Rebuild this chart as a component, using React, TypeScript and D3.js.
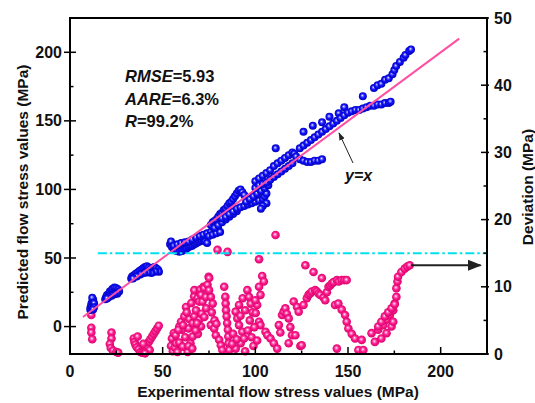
import React from "react";
import * as d3 from "d3";

const predictedPoints: [number, number][] = [
  [11, 12], [11, 13.5], [11.5, 15], [11.5, 16.5], [12, 18], [12.5, 19.5], [12, 21], [13, 17], [13, 14], [12.5, 12.5],
  [19, 20], [19.5, 21.5], [20, 23], [21, 24], [21.5, 25.5], [22.5, 26.5], [23, 27.5], [24, 28.5], [25, 28], [26, 27], [26.5, 25.5], [25.5, 24], [24, 23.5], [22.5, 22.5], [21, 21.5], [20, 20.5],
  [33, 35], [33.5, 36.5], [34.5, 37.5], [35.5, 38.5], [36.5, 39.5], [37.5, 40.5], [38.5, 41.5], [39.5, 42.5], [40.5, 43.5], [41.5, 44], [42.5, 43], [43.5, 42], [44.5, 42.5], [45.5, 43.5], [46.5, 42.5], [47.5, 41.5], [48, 40], [46, 40], [44, 39], [42, 39.5], [40, 39], [38, 38], [36, 36.5], [34, 35],
  [54, 60], [54.5, 62], [55, 58], [56, 56.5], [57, 55.5], [58, 55], [59, 54.5], [60, 55], [61, 55.5], [62, 56], [63, 57], [64, 58], [65, 58.5], [66, 59], [67, 60], [68, 60.5], [69, 61.5], [70, 62], [71, 63], [72, 64], [73, 62], [74, 61],
  [56, 59], [58, 60], [60, 61], [62, 61.5], [64, 62], [66, 63.5], [68, 65], [70, 66], [72, 67], [74, 68], [76, 69], [78, 70], [80, 71], [75, 66], [77, 67], [79, 68], [81, 69],
  [76, 74], [77, 76], [78, 77], [79, 78], [80, 80], [81, 82], [82, 83], [83, 85], [84, 86], [85, 88], [86, 90], [87, 91], [88, 93], [89, 95], [90, 97], [91, 99], [92, 100], [93, 98], [94, 96],
  [78, 72], [80, 74], [82, 76], [84, 78], [86, 80], [88, 82], [90, 84],
  [82, 79], [84, 80], [86, 82], [88, 84], [90, 86], [92, 87], [94, 88], [96, 89], [98, 90], [100, 91], [102, 92], [104, 93], [105, 95], [106, 97], [106, 90], [104, 88], [103, 86], [98, 94], [100, 96], [96, 92],
  [95, 91], [97, 93], [99, 95], [101, 97], [103, 99], [105, 101], [107, 103],
  [100, 106], [102, 108], [104, 110], [106, 112], [108, 114], [110, 117], [112, 119], [114, 121], [116, 123], [118, 125], [120, 127], [121, 126],
  [122, 124], [124, 122], [126, 121], [128, 120], [130, 120], [132, 121], [134, 121], [136, 122],
  [100, 101], [102, 103], [104, 104], [106, 105], [108, 107], [110, 109], [112, 111], [114, 113], [116, 115], [118, 117], [120, 119],
  [111, 130],
  [126, 142], [131, 146.5], [136, 149], [140, 153], [145, 155.5], [148, 160],
  [124, 130], [126, 132], [128, 134], [130, 136], [132, 138], [134, 140], [136, 142], [138, 144], [140, 146], [142, 148], [144, 150], [146, 152], [148, 154], [150, 156], [152, 157], [154, 158], [156, 158], [158, 159],
  [158, 168],
  [164, 174], [166, 176], [168, 177], [170, 180], [172, 181], [174, 184], [175, 187], [176, 190], [178, 193], [180, 196], [181, 198], [183, 201], [184, 202],
  [160, 160], [162, 161], [164, 161], [166, 162], [168, 162], [170, 163], [172, 163], [173, 164],
];

const deviationPoints: [number, number][] = [
  [11.5, 5.8], [11.5, 3.9], [11.5, 3.2], [12, 2.2],
  [22.4, 3.2], [22.4, 2.3], [21.5, 1.5], [22, 0.9], [23.2, 0.5], [25, 0.3], [26, 0.2],
  [34.4, 2.3], [34.8, 1.8], [35.3, 1.4], [36, 1], [37, 0.7], [38, 0.3], [38.9, 0.2], [40, 0.4], [41, 0.8], [41.6, 1.1], [42.5, 1.8], [43.4, 2.2], [44.3, 2.6], [45.2, 3], [46.1, 3.4], [47, 3.8], [47.9, 4.2], [36.5, 2.6], [39.5, 1.5], [43, 0.6], [40.5, 0.1],
  [54.5, 1.2], [55, 2.3], [55.5, 0.4], [56, 3.1], [56.5, 1], [57.2, 1.6], [58, 0.3], [59, 4.1], [59, 1.7], [59.9, 4.8], [60.4, 3.6], [60.8, 1.1], [61.7, 5.6], [62.2, 2.5], [62.6, 7], [63.5, 0.3], [64, 3.8], [64.4, 5.2], [65, 1.6], [65.5, 7.6], [66.2, 4.6], [66.2, 2.6], [67, 8.6], [67.1, 5.6], [67.1, 9.5], [68, 6.5], [68.8, 8.3], [69, 3], [69.7, 7.8], [69.7, 5.1], [70.3, 9.6], [70.7, 4.1], [70.7, 8.8], [71.5, 7.8], [72, 10], [72.4, 9.8], [73.3, 8.5], [74.2, 10.3], [74.8, 11.5], [75.1, 11.3], [76, 8.5], [76, 4.3], [77, 7.5], [77.8, 3.8], [78.7, 2.8], [79.6, 15.5], [80.5, 2.1], [81.4, 1.3], [82.2, 0.6],
  [57, 2.8], [58.5, 3.6], [61, 4.3], [63, 6.2], [64, 1.2], [66, 0.8], [67.8, 3.5], [68.5, 4.6], [71, 6], [72.5, 5.5], [73.5, 6.8], [75, 9.5], [76.5, 6.2], [78, 5], [79, 4.5],
  [83.2, 10], [83.8, 8.5], [84, 7.5], [84.2, 6.5], [84.5, 5.6], [84.8, 4.6], [85, 15.2], [85.2, 3.6], [85.4, 2.6], [85.6, 1.6], [86, 0.6],
  [89.4, 6.3], [89.4, 0.8], [90.3, 5.3], [91.2, 7.3], [91.2, 4.3], [92.1, 1.6], [93, 3.3], [93.2, 8.3], [93.9, 2.3], [94.5, 0.4], [95.7, 9.5], [96.6, 8.5], [97.5, 7.5], [98.5, 6.2], [99, 1.2], [100.2, 6.1], [101, 7.3], [102, 4.8], [102, 10], [102, 14.1], [102.8, 8.8], [102.8, 4.3], [103.7, 11.6], [104.6, 10.8], [105.5, 3.3], [106.5, 2.8],
  [87.5, 1.5], [88, 3], [90, 2.2], [92, 5.7], [94.5, 6.5], [96, 3.5], [97, 5], [98, 2.5], [99.5, 4], [100, 8], [101, 2],
  [108.2, 2.3], [110, 1.6], [110.9, 17.7], [111.8, 0.8], [112.7, 4.3], [113.5, 3.2], [114.4, 5.8], [115.3, 6.3], [116.2, 6.8], [117, 6], [118, 5.3], [118, 1.6], [118.9, 4], [119.8, 2.8], [120.7, 7.8], [121.6, 2.8], [122.5, 7], [123.4, 6.3], [124.3, 1.2], [125, 1.3], [126, 7.3], [127, 13.2], [127.8, 8.3], [128.7, 8.8], [129.6, 9], [130.5, 9.3], [131.4, 12.2], [132.3, 9.5], [133.2, 9.3], [134.1, 9], [135, 8.8], [135.9, 11.3], [136.8, 8.4], [137.7, 8], [138.6, 9.2], [139.5, 10], [140.4, 10.2], [141.3, 10.5], [142.2, 10.7], [143, 7.3], [144, 11], [144, 0.8], [145, 10.8], [146.6, 11], [148, 11], [149.3, 11],
  [144.8, 7.5], [146.6, 6.6], [148.4, 5.8], [149.3, 4.8], [150.2, 3.8], [152, 3], [153.8, 2.3], [155.6, 0.6], [157.4, 2.1], [158.3, 0.6],
  [162.7, 3.1], [164.5, 1.8], [166.3, 3.6], [168, 2.3], [169, 4.3], [170.8, 3.1], [170.8, 5.1], [172.6, 5.8], [173.5, 4.1], [174.4, 4.8], [174.4, 6.5], [175.2, 7.5], [176.1, 8.5], [176.1, 9.8], [176.7, 10.8], [177, 11.5], [178.8, 12.2], [180.6, 12.7], [182, 13], [183.3, 13.2],
  [166.3, 4.1], [168, 4.8], [169.9, 5.6], [171.7, 6.2], [173.5, 6.8], [175.2, 7.4],
];

const xTicks = [0, 50, 100, 150, 200];
const xMinorTicks = [25, 75, 125, 175];
const yLeftTicks = [0, 50, 100, 150, 200];
const yLeftMinorTicks = [25, 75, 125, 175];
const yRightTicks = [0, 10, 20, 30, 40, 50];
const yRightMinorTicks = [5, 15, 25, 35, 45];
const lineRange = [7, 210];
const thresholdDeviation = 15;
const arrowDeviation = 13.2;
const arrowXRange = [184, 221.5];
const statsLines = [
  { label: "RMSE", value: "=5.93" },
  { label: "AARE", value: "=6.3%" },
  { label: "R", value: "=99.2%" },
];

const W = 535, H = 403;
const L = 70, R = 487, T = 18, B = 354;
const FONT = "'Liberation Sans', Arial, sans-serif";

export default function App() {
  const x = d3.scaleLinear().domain([0, 225]).range([L, R]);
  const yL = d3.scaleLinear().domain([-20, 225]).range([B, T]);
  const yR = d3.scaleLinear().domain([0, 50]).range([B, T]);

  return (
    <svg width={W} height={H} style={{ position: "absolute", left: 0, top: 0, background: "#fff" }}>
      <defs>
        <radialGradient id="gBlue" cx="0.5" cy="0.5" r="0.55" fx="0.42" fy="0.4">
          <stop offset="0" stopColor="#ffffff" />
          <stop offset="0.2" stopColor="#8080ff" />
          <stop offset="0.5" stopColor="#1010ff" />
          <stop offset="1" stopColor="#0000b0" />
        </radialGradient>
        <radialGradient id="gPink" cx="0.5" cy="0.5" r="0.55" fx="0.42" fy="0.4">
          <stop offset="0" stopColor="#ffffff" />
          <stop offset="0.2" stopColor="#ff8cc6" />
          <stop offset="0.5" stopColor="#ff1a8c" />
          <stop offset="1" stopColor="#d00068" />
        </radialGradient>
        <marker id="arrowHead" viewBox="0 0 10 10" refX="9" refY="5" markerWidth="7" markerHeight="7" orient="auto">
          <path d="M0,1 L10,5 L0,9 z" fill="#222" />
        </marker>
        <marker id="arrowThin" viewBox="0 0 10 10" refX="9" refY="5" markerWidth="8" markerHeight="8" orient="auto">
          <path d="M0,1.5 L10,5 L0,8.5 z" fill="#222" />
        </marker>
      </defs>

      {deviationPoints.map((d, i) => (
        <circle key={"p" + i} cx={x(d[0])} cy={yR(d[1])} r={4.3} fill="url(#gPink)" />
      ))}
      {predictedPoints.map((d, i) => (
        <circle key={"b" + i} cx={x(d[0])} cy={yL(d[1])} r={4} fill="url(#gBlue)" />
      ))}

      <line x1={x(lineRange[0])} y1={yL(lineRange[0])} x2={x(lineRange[1])} y2={yL(lineRange[1])}
        stroke="#ff4fa3" strokeWidth={2} />

      <line x1={x(15)} x2={R} y1={yR(thresholdDeviation)} y2={yR(thresholdDeviation)}
        stroke="#00e1f0" strokeWidth={2} strokeDasharray="9,3,2.5,3" />

      <line x1={x(arrowXRange[0])} x2={x(arrowXRange[1])} y1={yR(arrowDeviation)} y2={yR(arrowDeviation)}
        stroke="#222" strokeWidth={2} markerEnd="url(#arrowHead)" />

      <line x1={353} y1={163} x2={339} y2={133} stroke="#222" strokeWidth={1} markerEnd="url(#arrowThin)" />
      <text x={345} y={181} fontFamily={FONT} fontSize={16} fontStyle="italic" fontWeight="bold" fill="#111">y=x</text>

      {statsLines.map((s, i) => (
        <text key={s.label} x={125} y={82 + i * 22.7} fontFamily={FONT} fontSize={16.5} fontWeight="bold" fill="#111">
          <tspan fontStyle="italic">{s.label}</tspan>
          <tspan>{s.value}</tspan>
        </text>
      ))}

      <rect x={L} y={T} width={R - L} height={B - T} fill="none" stroke="#000" strokeWidth={2} />

      {xTicks.map((t) => (
        <g key={"xt" + t}>
          <line x1={x(t)} x2={x(t)} y1={B} y2={B - 7} stroke="#000" strokeWidth={1.5} />
          <text x={x(t)} y={377} textAnchor="middle" fontFamily={FONT} fontSize={16} fontWeight="bold" fill="#111">{t}</text>
        </g>
      ))}
      {xMinorTicks.map((t) => (
        <line key={"xm" + t} x1={x(t)} x2={x(t)} y1={B} y2={B - 3.5} stroke="#000" strokeWidth={1.5} />
      ))}

      {yLeftTicks.map((t) => (
        <g key={"yl" + t}>
          <line x1={L - 6} x2={L + 6} y1={yL(t)} y2={yL(t)} stroke="#000" strokeWidth={1.5} />
          <text x={62} y={yL(t) + 5.5} textAnchor="end" fontFamily={FONT} fontSize={16} fontWeight="bold" fill="#111">{t}</text>
        </g>
      ))}
      {yLeftMinorTicks.map((t) => (
        <line key={"ylm" + t} x1={L} x2={L + 3.5} y1={yL(t)} y2={yL(t)} stroke="#000" strokeWidth={1.5} />
      ))}

      {yRightTicks.map((t) => (
        <g key={"yr" + t}>
          <line x1={R - 6} x2={R + 2} y1={yR(t)} y2={yR(t)} stroke="#000" strokeWidth={1.5} />
          <text x={494} y={yR(t) + 5.5} textAnchor="start" fontFamily={FONT} fontSize={16} fontWeight="bold" fill="#111">{t}</text>
        </g>
      ))}
      {yRightMinorTicks.map((t) => (
        <line key={"yrm" + t} x1={R - 3.5} x2={R} y1={yR(t)} y2={yR(t)} stroke="#000" strokeWidth={1.5} />
      ))}

      <text x={278} y={397} textAnchor="middle" fontFamily={FONT} fontSize={15.5} fontWeight="bold" fill="#111">
        Experimental flow stress values (MPa)
      </text>
      <text transform={`translate(28,192) rotate(-90)`} textAnchor="middle" fontFamily={FONT} fontSize={15.5} fontWeight="bold" fill="#111">
        Predicted flow stress values (MPa)
      </text>
      <text transform={`translate(533,187) rotate(-90)`} textAnchor="middle" fontFamily={FONT} fontSize={15.5} fontWeight="bold" fill="#111">
        Deviation (MPa)
      </text>
    </svg>
  );
}
